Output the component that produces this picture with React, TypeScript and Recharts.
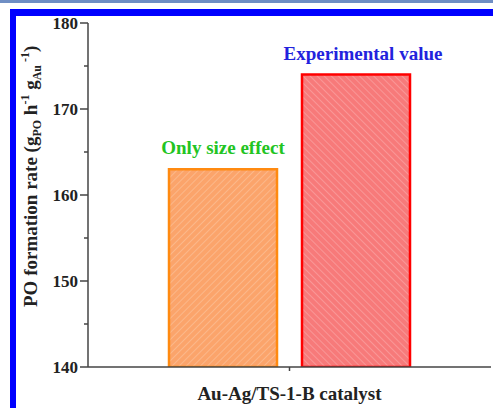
import React from 'react';
import { BarChart, Bar, XAxis, YAxis, LabelList } from 'recharts';

const categories = ['Au-Ag/TS-1-B catalyst'];
const sizeEffectValues = [163];
const experimentalValues = [174];
const seriesNames = ['Only size effect', 'Experimental value'];
const yTicks = [140, 145, 150, 155, 160, 165, 170, 175, 180];

const data = categories.map((name, i) => ({
  name,
  sizeEffect: sizeEffectValues[i],
  experimental: experimentalValues[i],
}));

const FONT = '"Liberation Serif", "Times New Roman", serif';
const AXIS = '#444';

const YTick = (props: any) => {
  const { x, y, payload } = props;
  // x is the label position: axis - tickSize(8) - tickMargin(2)
  const axisX = x + 10;
  const major = payload.value % 10 === 0;
  return (
    <g>
      <line x1={axisX - (major ? 8 : 4)} x2={axisX} y1={y} y2={y} stroke={AXIS} strokeWidth={1.5} />
      {major && (
        <text x={x} y={y} dy="0.36em" textAnchor="end" fontFamily={FONT} fontWeight="bold" fontSize={17} fill="#222">
          {payload.value}
        </text>
      )}
    </g>
  );
};

const YTitle = (props: any) => {
  const { viewBox } = props;
  const x = viewBox.x + 37;
  const y = 307;
  return (
    <text x={x} y={y} transform={`rotate(-90, ${x}, ${y})`} textAnchor="start" fontFamily={FONT} fontWeight="bold" fontSize={19} fill="#222">
      PO formation rate (g
      <tspan fontSize={12} dy={4}>PO</tspan>
      <tspan dy={-4}> h</tspan>
      <tspan fontSize={12} dy={-8}>-1</tspan>
      <tspan dy={8}> g</tspan>
      <tspan fontSize={12} dy={4}>Au</tspan>
      <tspan fontSize={12} dy={-12}> -1</tspan>
      <tspan dy={8}>)</tspan>
    </text>
  );
};

const barLabel = (text: string, color: string, dx: number) => (props: any) => {
  const { x, y, width } = props;
  return (
    <text x={x + width / 2 + dx} y={y - 15} textAnchor="middle" fontFamily={FONT} fontWeight="bold" fontSize={19} fill={color}>
      {text}
    </text>
  );
};

export default function App() {
  return (
    <div style={{ position: 'relative', width: 493, height: 408, background: '#fff', overflow: 'hidden' }}>
      <style>{'body{margin:0}'}</style>
      <BarChart width={493} height={408} data={data} margin={{ top: 23, right: 2, bottom: 0, left: 0 }} barSize={108} barGap={25}>
        <defs>
          <pattern id="hatchOrange" patternUnits="userSpaceOnUse" width="5" height="5" patternTransform="rotate(45)">
            <rect width="5" height="5" fill="#fba46b" />
            <line x1="0" y1="0" x2="0" y2="5" stroke="#fcbd92" strokeWidth="1.6" />
          </pattern>
          <pattern id="hatchRed" patternUnits="userSpaceOnUse" width="5" height="5" patternTransform="rotate(-45)">
            <rect width="5" height="5" fill="#f77a7a" />
            <line x1="0" y1="0" x2="0" y2="5" stroke="#fa9e9e" strokeWidth="1.6" />
          </pattern>
        </defs>
        <XAxis
          xAxisId="bottom"
          dataKey="name"
          height={41}
          stroke={AXIS}
          strokeWidth={1.5}
          tickSize={4}
          tickMargin={16}
          tick={{ fontFamily: FONT, fontWeight: 'bold', fontSize: 19, fill: '#222' }}
        />
        <XAxis xAxisId="top" orientation="top" dataKey="name" height={0} tick={false} tickLine={false} stroke={AXIS} strokeWidth={1.5} />
        <YAxis
          yAxisId="left"
          type="number"
          domain={[140, 180]}
          ticks={yTicks}
          interval={0}
          allowDataOverflow
          width={88}
          stroke={AXIS}
          strokeWidth={1.5}
          tickLine={false}
          tickSize={8}
          tickMargin={2}
          tick={<YTick />}
          label={<YTitle />}
        />
        <YAxis yAxisId="right" orientation="right" type="number" domain={[140, 180]} width={0} tick={false} tickLine={false} stroke={AXIS} strokeWidth={1.5} />
        <Bar xAxisId="bottom" yAxisId="left" dataKey="sizeEffect" name={seriesNames[0]} fill="url(#hatchOrange)" stroke="#ff8a10" strokeWidth={2.5} isAnimationActive={false}>
          <LabelList content={barLabel(seriesNames[0], '#22c422', 0)} />
        </Bar>
        <Bar xAxisId="bottom" yAxisId="left" dataKey="experimental" name={seriesNames[1]} fill="url(#hatchRed)" stroke="#ff0000" strokeWidth={2.5} isAnimationActive={false}>
          <LabelList content={barLabel(seriesNames[1], '#2222dd', 7)} />
        </Bar>
      </BarChart>
      <div style={{ position: 'absolute', left: 0, top: 0, width: 493, height: 3, background: '#6f8ec4' }} />
      <div style={{ position: 'absolute', left: 10, top: 9, width: 483, height: 7, background: '#0000ff' }} />
      <div style={{ position: 'absolute', left: 10, top: 9, width: 6, height: 399, background: '#0000ff' }} />
    </div>
  );
}
